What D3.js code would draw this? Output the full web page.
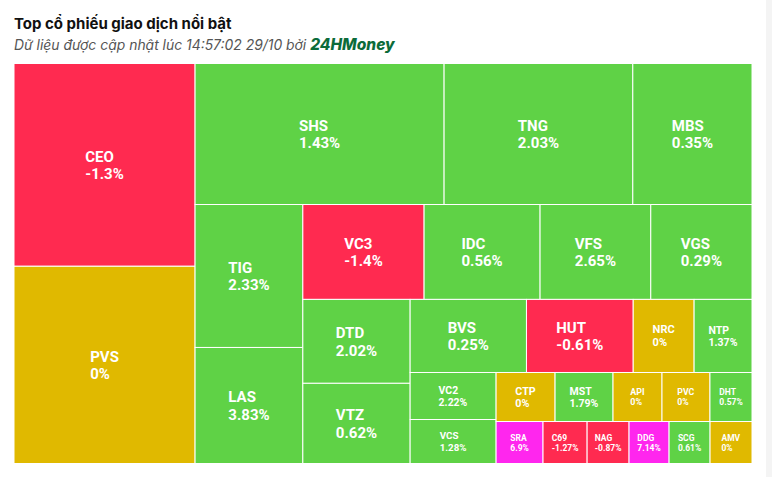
<!DOCTYPE html>
<html>
<head>
<meta charset="utf-8">
<script src="https://cdn.jsdelivr.net/npm/d3@7"></script>
<style>
  html, body { margin: 0; padding: 0; background: #ffffff; }
  svg { display: block; }
</style>
</head>
<body>
<svg id="chart" width="772" height="477"></svg>
<script>
// ---- data ----
const tickers = ["CEO","PVS","SHS","TNG","MBS","TIG","LAS","VC3","IDC","VFS","VGS","DTD","VTZ","BVS","HUT","NRC","NTP","VC2","VCS","CTP","MST","API","PVC","DHT","SRA","C69","NAG","DDG","SCG","AMV"];
// relative traded value (estimated from tile areas)
const tradeValues = [36.7,35.7,35.1,26.6,16.8,15.4,12.5,11.5,11.0,10.5,9.6,9.0,8.6,8.5,7.8,4.45,4.23,4.04,3.78,2.89,2.84,2.40,2.35,2.06,1.97,1.85,1.76,1.68,1.72,1.76];
// price change in %
const changes = [-1.3,0,1.43,2.03,0.35,2.33,3.83,-1.4,0.56,2.65,0.29,2.02,0.62,0.25,-0.61,0,1.37,2.22,1.28,0,1.79,0,0,0.57,6.9,-1.27,-0.87,7.14,0.61,0];
const ceilingTickers = ["SRA","DDG"];

const titleText = "Top cổ phiếu giao dịch nổi bật";
const subtitleText = "Dữ liệu được cập nhật lúc 14:57:02 29/10 bởi";
const brandText = "24HMoney";

// ---- layout ----
const W = 772, H = 477;
const plot = { x: 14, y: 63.5, w: 738, h: 400 };
const COLORS = { up: "#5fd246", down: "#ff2a50", flat: "#e0b900", ceil: "#ff26ee" };

const svg = d3.select("#chart");

// title
svg.append("text")
  .attr("x", 14).attr("y", 29)
  .attr("font-family", "Inter, 'Noto Sans', sans-serif")
  .attr("font-weight", 700).attr("font-size", 15)
  .attr("fill", "#111")
  .text(titleText);

const sub = svg.append("text")
  .attr("x", 14).attr("y", 50)
  .attr("font-family", "Inter, 'Noto Sans', sans-serif")
  .attr("font-style", "italic")
  .attr("font-size", 13.9)
  .attr("fill", "#555");
sub.append("tspan").text(subtitleText + " ");
sub.append("tspan")
  .attr("font-weight", 800).attr("font-size", 15.5).attr("fill", "#0c6b3a")
  .text(brandText);

// faint right edge shadow like the reference page
svg.append("rect").attr("x", 766).attr("y", 0).attr("width", 6).attr("height", H).attr("fill", "#f4f4f4");

// Alternating-direction squarified tiling (Highcharts-style), as a d3 tile function
function alternatingSquarify(parent, x0, y0, x1, y1) {
  const nodes = parent.children;
  const total = parent.value;
  let rx = x0, ry = y0, rw = x1 - x0, rh = y1 - y0;
  const scale = (rw * rh) / total;
  let dir = 0; // 0: column at left, 1: row at top
  let group = [];
  const ratio = (a, b) => Math.max(a / b, b / a);
  const sumA = g => d3.sum(g, n => n.value * scale);

  function flush() {
    const s = sumA(group);
    if (dir === 0) {
      const w = s / rh;
      let y = ry;
      group.forEach(n => {
        const h = n.value * scale / w;
        n.x0 = rx; n.x1 = rx + w; n.y0 = y; n.y1 = y + h; y += h;
      });
      rx += w; rw -= w;
    } else {
      const h = s / rw;
      let x = rx;
      group.forEach(n => {
        const w = n.value * scale / h;
        n.x0 = x; n.x1 = x + w; n.y0 = ry; n.y1 = ry + h; x += w;
      });
      ry += h; rh -= h;
    }
    dir = 1 - dir;
    group = [];
  }

  nodes.forEach(node => {
    if (group.length) {
      const prev = group[group.length - 1].value * scale;
      const sOld = sumA(group), sNew = sOld + node.value * scale;
      let rOld, rNew;
      if (dir === 0) {
        const wOld = sOld / rh, wNew = sNew / rh;
        rOld = ratio(wOld, prev / wOld); rNew = ratio(wNew, prev / wNew);
      } else {
        const hOld = sOld / rw, hNew = sNew / rw;
        rOld = ratio(prev / hOld, hOld); rNew = ratio(prev / hNew, hNew);
      }
      if (rNew > rOld) flush();
    }
    group.push(node);
  });
  if (group.length) flush();
}

const data = {
  name: "root",
  children: tickers.map((t, i) => ({ name: t, value: tradeValues[i], change: changes[i] }))
};

const root = d3.hierarchy(data).sum(d => d.value || 0);
d3.treemap().size([plot.w, plot.h]).tile(alternatingSquarify)(root);

const colorOf = d => {
  if (ceilingTickers.includes(d.name)) return COLORS.ceil;
  if (d.change > 0) return COLORS.up;
  if (d.change < 0) return COLORS.down;
  return COLORS.flat;
};

const g = svg.append("g").attr("transform", `translate(${plot.x},${plot.y})`);

const cells = g.selectAll("g.cell")
  .data(root.leaves())
  .join("g").attr("class", "cell");

cells.append("rect")
  .attr("x", d => d.x0).attr("y", d => d.y0)
  .attr("width", d => d.x1 - d.x0).attr("height", d => d.y1 - d.y0)
  .attr("fill", d => colorOf(d.data))
  .attr("stroke", "#ffffff").attr("stroke-width", 1);

const fontSizeFor = d => {
  const w = d.x1 - d.x0, h = d.y1 - d.y0;
  return Math.max(8.5, Math.min(15, w / 5.5, h / 4.5));
};

cells.each(function (d) {
  const fs = fontSizeFor(d);
  const lineH = fs * 1.17;
  const cx = (d.x0 + d.x1) / 2, cy = (d.y0 + d.y1) / 2;
  const t = d3.select(this).append("text")
    .attr("font-family", "Roboto, 'Noto Sans', sans-serif")
    .attr("font-weight", 700)
    .attr("font-size", fs)
    .attr("fill", "#ffffff");
  const base1 = cy - lineH / 2 + fs * 0.36;
  t.append("tspan").attr("x", 0).attr("y", base1).text(d.data.name);
  t.append("tspan").attr("x", 0).attr("y", base1 + lineH).text(String(d.data.change) + "%");
  const bw = this.querySelector("text").getBBox().width;
  t.attr("transform", `translate(${cx - bw / 2},0)`);
});
</script>
</body>
</html>
